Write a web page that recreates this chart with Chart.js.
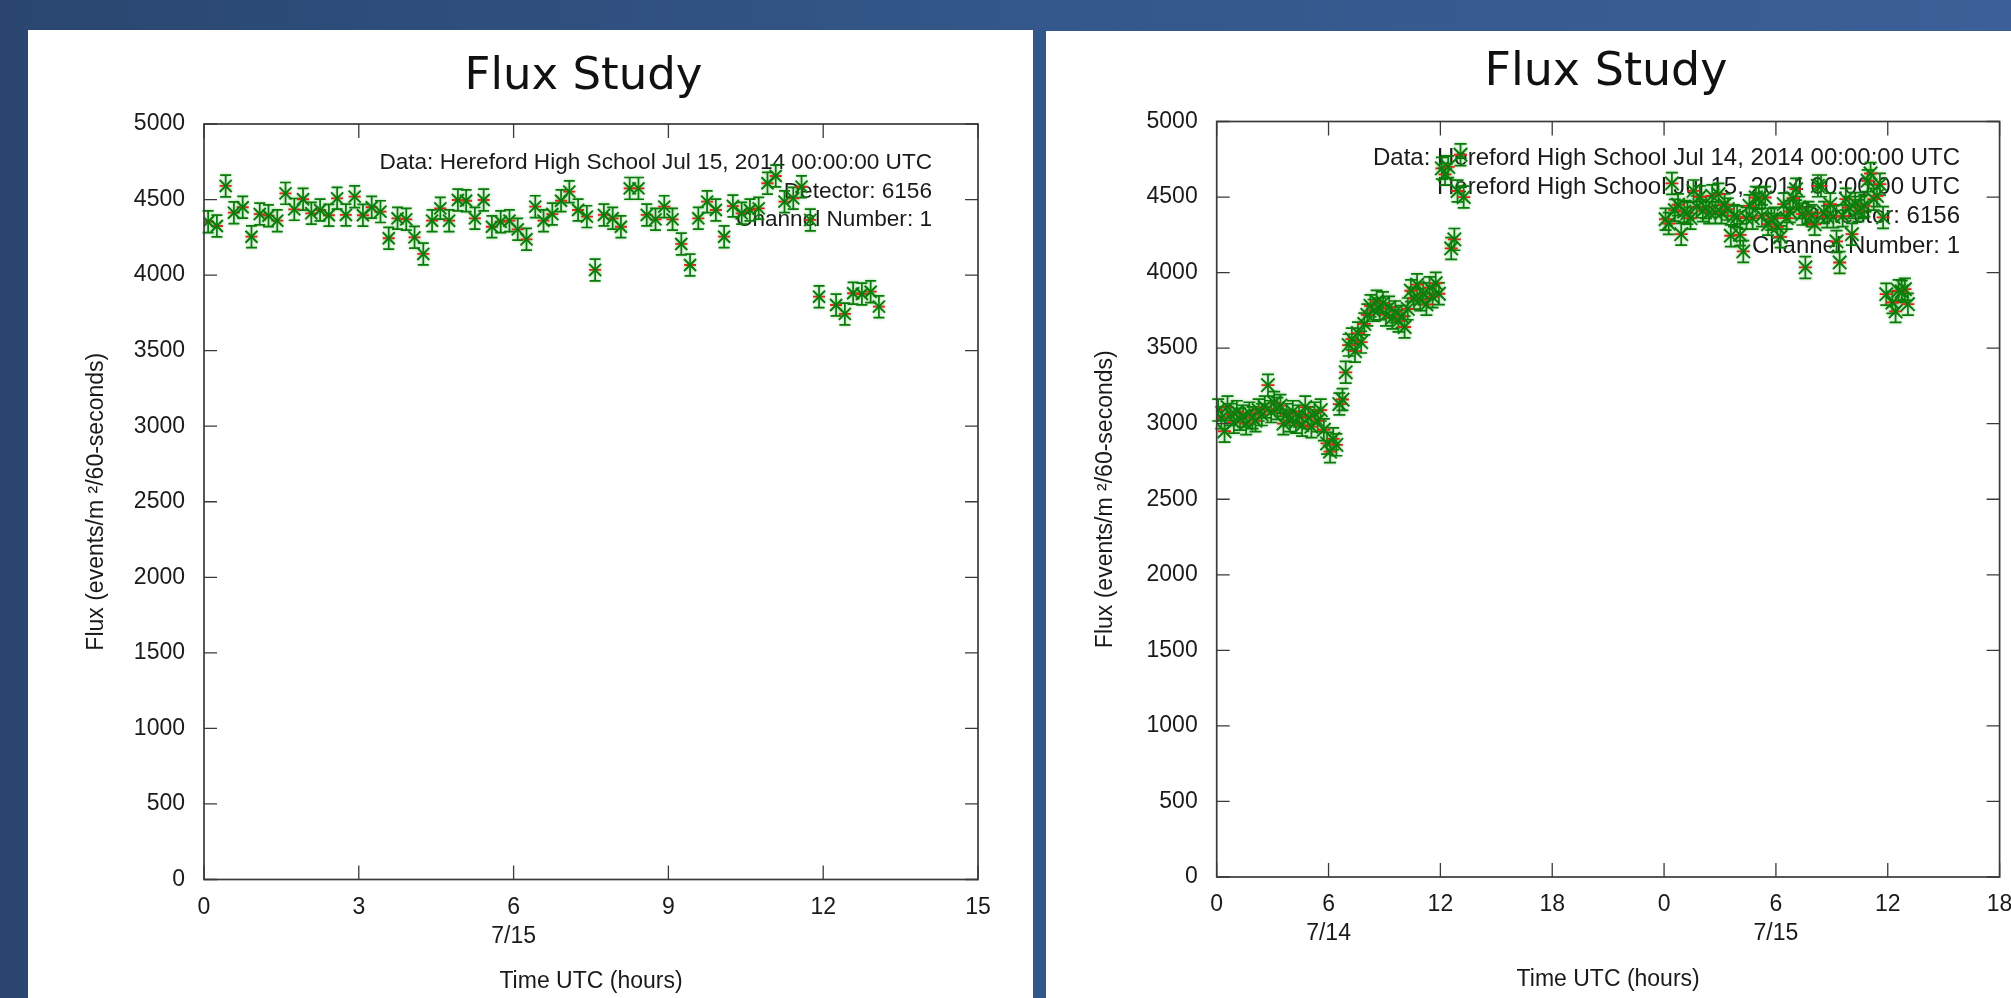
<!DOCTYPE html>
<html>
<head>
<meta charset="utf-8">
<title>Flux Study</title>
<script src="https://cdn.jsdelivr.net/npm/chart.js@4.4.1/dist/chart.umd.min.js"></script>
<style>
  html, body { margin: 0; padding: 0; }
  body {
    width: 2011px; height: 998px; overflow: hidden; position: relative;
    background: linear-gradient(to right, #2a4670 0%, #33578a 50%, #3a6097 100%);
  }
  .panel { position: absolute; background: #fff; }
  #panelLeft { left: 28px; top: 30px; width: 1005px; height: 968px; }
  #panelRight { left: 1046px; top: 31px; width: 965px; height: 967px; }
  canvas { display: block; }
</style>
</head>
<body>
<div class="panel" id="panelLeft"><canvas id="fluxJul15" width="1005" height="968"></canvas></div>
<div class="panel" id="panelRight"><canvas id="fluxJul14" width="965" height="967"></canvas></div>
<script>
// Jul 15 run, 10 minute bins (hours UTC)
const jul15Hours = [
  0.08, 0.25, 0.42, 0.58, 0.75, 0.92, 1.08, 1.25, 1.42, 1.58,
  1.75, 1.92, 2.08, 2.25, 2.42, 2.58, 2.75, 2.92, 3.08, 3.25,
  3.42, 3.58, 3.75, 3.92, 4.08, 4.25, 4.42, 4.58, 4.75, 4.92,
  5.08, 5.25, 5.42, 5.58, 5.75, 5.92, 6.08, 6.25, 6.42, 6.58,
  6.75, 6.92, 7.08, 7.25, 7.42, 7.58, 7.75, 7.92, 8.08, 8.25,
  8.42, 8.58, 8.75, 8.92, 9.08, 9.25, 9.42, 9.58, 9.75, 9.92,
  10.08, 10.25, 10.42, 10.58, 10.75, 10.92, 11.08, 11.25, 11.42, 11.58,
  11.75, 11.92, 12.25, 12.42, 12.58, 12.75, 12.92, 13.08
];
const jul15Flux = [
  4353, 4325, 4590, 4413, 4449, 4254, 4404, 4393, 4360, 4541,
  4435, 4502, 4409, 4431, 4396, 4508, 4398, 4519, 4396, 4449,
  4420, 4244, 4376, 4369, 4250, 4140, 4360, 4442, 4360, 4497,
  4492, 4376, 4497, 4320, 4353, 4360, 4303, 4237, 4453, 4360,
  4404, 4492, 4552, 4431, 4387, 4034, 4398, 4376, 4320, 4574,
  4574, 4398, 4369, 4453, 4369, 4206, 4067, 4376, 4486, 4431,
  4254, 4457, 4409, 4431, 4442, 4608, 4656, 4486, 4508, 4585,
  4365, 3857, 3802, 3743, 3880, 3875, 3890, 3791
];

// Jul 14 run, 10 minute bins (hours UTC)
const jul14Hours = [
  0.08, 0.25, 0.42, 0.58, 0.75, 0.92, 1.08, 1.25, 1.42, 1.58,
  1.75, 1.92, 2.08, 2.25, 2.42, 2.58, 2.75, 2.92, 3.08, 3.25,
  3.42, 3.58, 3.75, 3.92, 4.08, 4.25, 4.42, 4.58, 4.75, 4.92,
  5.08, 5.25, 5.42, 5.58, 5.75, 5.92, 6.08, 6.25, 6.42, 6.58,
  6.75, 6.92, 7.08, 7.25, 7.42, 7.58, 7.75, 7.92, 8.08, 8.25,
  8.42, 8.58, 8.75, 8.92, 9.08, 9.25, 9.42, 9.58, 9.75, 9.92,
  10.08, 10.25, 10.42, 10.58, 10.75, 10.92, 11.08, 11.25, 11.42, 11.58,
  11.75, 11.92, 12.08, 12.25, 12.42, 12.58, 12.75, 12.92, 13.08, 13.25
];
const jul14Flux = [
  3090, 3040, 2950, 3110, 3060, 3010, 3080, 3030, 3050, 3000,
  3070, 3040, 3020, 3090, 3060, 3110, 3255, 3080, 3140, 3100,
  3120, 3000, 3060, 3020, 3080, 3010, 3050, 2990, 3110, 3040,
  2980, 3070, 3020, 3090, 2960, 2870, 2815, 2900, 2860, 3130,
  3160, 3340, 3520, 3560, 3480, 3600, 3540, 3660, 3720, 3780,
  3750, 3810, 3760, 3800, 3720, 3770, 3700, 3740, 3680, 3710,
  3640, 3760, 3880, 3830, 3920, 3820, 3860, 3790, 3900, 3840,
  3930, 3860, 4690, 4650, 4700, 4160, 4220, 4540, 4780, 4500
];

const fluxErr = 72;

const yTickLabels = ['0', '500', '1000', '1500', '2000', '2500', '3000', '3500', '4000', '4500', '5000'];
const leftXTickLabels = ['0', '3', ['6', '7/15'], '9', '12', '15'];
const rightXTickLabels = ['0', ['6', '7/14'], '12', '18', '0', ['6', '7/15'], '12', '18'];

const leftNotes = ['Data: Hereford High School Jul 15, 2014 00:00:00 UTC', 'Detector: 6156', 'Channel Number: 1'];
const rightNotes = ['Data: Hereford High School Jul 14, 2014 00:00:00 UTC', 'Hereford High School Jul 15, 2014 00:00:00 UTC', 'Detector: 6156', 'Channel Number: 1'];

const GREEN = '#0a7a0a';
const RED = '#f21a1a';
const AXIS = '#3a3a3a';

Chart.defaults.font.family = "'Liberation Sans', Arial, sans-serif";
Chart.defaults.color = '#1a1a1a';

// title, notes, error bars, frame with inward ticks
function fluxDecor(cfg) {
  return {
    id: 'fluxDecor',
    beforeDatasetsDraw(chart) {
      const { ctx, scales: { x, y } } = chart;
      ctx.save();
      ctx.fillStyle = '#111';
      ctx.textBaseline = 'alphabetic';
      ctx.textAlign = 'center';
      ctx.font = cfg.titleFont + "px 'DejaVu Sans'";
      ctx.fillText('Flux Study', cfg.titleX, cfg.titleY);
      ctx.font = cfg.noteFont + "px 'Liberation Sans'";
      ctx.fillStyle = '#1a1a1a';
      ctx.textAlign = 'right';
      cfg.notes.forEach((line, i) => ctx.fillText(line, cfg.noteX, cfg.noteY + i * cfg.noteGap));
      ctx.restore();

      // soft green halo like the original raster, kept until the datasets are done
      ctx.save();
      ctx.shadowColor = 'rgba(40, 170, 40, 0.55)';
      ctx.shadowBlur = 3;
      ctx.strokeStyle = GREEN;
      ctx.lineWidth = 1.7;
      ctx.beginPath();
      chart.data.datasets[0].data.forEach(p => {
        const px = x.getPixelForValue(p.x);
        const lo = y.getPixelForValue(p.y - fluxErr);
        const hi = y.getPixelForValue(p.y + fluxErr);
        ctx.moveTo(px, lo); ctx.lineTo(px, hi);
        ctx.moveTo(px - cfg.cap, lo); ctx.lineTo(px + cfg.cap, lo);
        ctx.moveTo(px - cfg.cap, hi); ctx.lineTo(px + cfg.cap, hi);
      });
      ctx.stroke();
    },
    afterDatasetsDraw(chart) {
      chart.ctx.restore();
    },
    afterDraw(chart) {
      const { ctx, chartArea: a, scales: { x, y } } = chart;
      ctx.save();
      ctx.strokeStyle = AXIS;
      ctx.lineWidth = 1.7;
      ctx.strokeRect(a.left, a.top, a.right - a.left, a.bottom - a.top);
      ctx.lineWidth = 1.3;
      ctx.beginPath();
      x.ticks.forEach(t => {
        const px = x.getPixelForValue(t.value);
        ctx.moveTo(px, a.bottom); ctx.lineTo(px, a.bottom - 14);
        ctx.moveTo(px, a.top); ctx.lineTo(px, a.top + 14);
      });
      y.ticks.forEach(t => {
        const py = y.getPixelForValue(t.value);
        ctx.moveTo(a.left, py); ctx.lineTo(a.left + 13, py);
        ctx.moveTo(a.right, py); ctx.lineTo(a.right - 13, py);
      });
      ctx.stroke();
      ctx.restore();
    }
  };
}

function fluxChart(canvasId, points, c) {
  return new Chart(document.getElementById(canvasId), {
    type: 'scatter',
    data: {
      datasets: [
        { data: points, pointStyle: 'crossRot', pointRadius: c.star, pointBorderColor: GREEN, pointBorderWidth: 1.9, pointBackgroundColor: GREEN },
        { data: points, pointStyle: 'line', pointRadius: c.dash, pointBorderColor: RED, pointBorderWidth: 1.8, pointBackgroundColor: RED }
      ]
    },
    options: {
      responsive: false,
      animation: false,
      events: [],
      layout: { padding: { left: 0, top: c.top, right: c.right, bottom: 0 } },
      plugins: { legend: { display: false }, tooltip: { enabled: false }, title: { display: false } },
      scales: {
        x: {
          type: 'linear', min: 0, max: c.xMax,
          grid: { display: false, drawTicks: false },
          border: { display: false },
          ticks: {
            stepSize: c.xStep, autoSkip: false, maxRotation: 0, minRotation: 0,
            padding: c.xPad, color: '#1a1a1a',
            font: { size: 23, lineHeight: 1.26 },
            callback: (v, i) => c.xLabels[i]
          },
          title: { display: true, text: 'Time UTC (hours)', color: '#1a1a1a', font: { size: 23 }, padding: { top: 0, bottom: c.xTitlePad } },
          afterFit: s => { s.height = c.xHeight; s.paddingLeft = 0; s.paddingRight = 0; }
        },
        y: {
          type: 'linear', min: 0, max: 5000,
          grid: { display: false, drawTicks: false },
          border: { display: false },
          ticks: {
            stepSize: 500, padding: 19, color: '#1a1a1a',
            font: { size: 23 },
            callback: (v, i) => yTickLabels[i]
          },
          title: { display: true, text: 'Flux (events/m \u00b2/60-seconds)', color: '#1a1a1a', font: { size: 23 }, padding: { top: c.yTitlePad, bottom: 0 } },
          afterFit: s => { s.width = c.yWidth; s.paddingTop = 0; s.paddingBottom = 0; }
        }
      }
    },
    plugins: [fluxDecor(c)]
  });
}

const jul15Points = jul15Hours.map((h, i) => ({ x: h, y: jul15Flux[i] }));
const twoDayPoints = jul14Hours.map((h, i) => ({ x: h, y: jul14Flux[i] }))
  .concat(jul15Hours.map((h, i) => ({ x: h + 24, y: jul15Flux[i] })));

fluxChart('fluxJul15', jul15Points, {
  top: 94, right: 55, yWidth: 176, xHeight: 118.5,
  xMax: 15, xStep: 3, xLabels: leftXTickLabels, xPad: 14, xTitlePad: 3, yTitlePad: 55,
  titleFont: 45, titleX: 555.5, titleY: 59,
  notes: leftNotes, noteFont: 22.6, noteX: 904, noteY: 139, noteGap: 28.6,
  star: 8.5, dash: 6, cap: 5.5
});

fluxChart('fluxJul14', twoDayPoints, {
  top: 90.5, right: 2, yWidth: 170.7, xHeight: 121,
  xMax: 42, xStep: 6, xLabels: rightXTickLabels, xPad: 13.5, xTitlePad: 5, yTitlePad: 46,
  titleFont: 46, titleX: 560, titleY: 54,
  notes: rightNotes, noteFont: 24, noteX: 914, noteY: 134, noteGap: 29.2,
  star: 9.5, dash: 6.5, cap: 6
});
</script>
</body>
</html>
